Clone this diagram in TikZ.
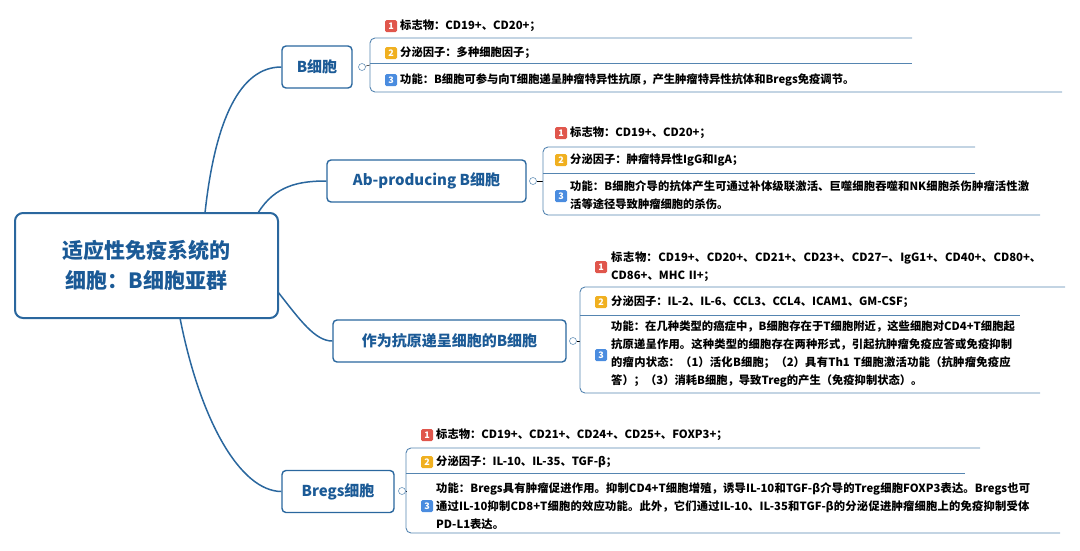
\documentclass[tikz,border=0pt]{standalone}
\usepackage{fontspec}
\setmainfont{Noto Sans CJK SC}
\XeTeXlinebreaklocale "zh"
\XeTeXlinebreakskip=0pt plus 1pt
\definecolor{mapblue}{HTML}{2A679E}
\definecolor{textblue}{HTML}{1B5A96}
\definecolor{bred}{HTML}{E0564C}
\definecolor{byellow}{HTML}{F0B020}
\definecolor{bblue}{HTML}{4A8CDF}
\begin{document}
\begin{tikzpicture}[x=1pt,y=-1pt]
        \tikzset{root/.style = {draw=mapblue,line width=2pt,rounded corners=8pt,text=textblue,font=\fontsize{21}{30}\selectfont\bfseries,align=center,minimum width=263pt,minimum height=105pt}}
        \tikzset{branch/.style = {draw=mapblue,line width=1.4pt,rounded corners=4pt,text=textblue,font=\fontsize{15}{18}\selectfont\bfseries,minimum height=42pt,inner xsep=8pt}}
        \tikzset{knob/.style = {circle,draw=mapblue!70,line width=0.6pt,minimum size=7pt,inner sep=0pt}}
        \tikzset{link/.style = {draw=mapblue,line width=1.5pt}}
        \tikzset{rowline/.style = {draw=mapblue!80,line width=0.9pt,rounded corners=5pt}}
        \tikzset{badge/.style = {fill=#1,text=white,font=\fontsize{9}{9}\selectfont\bfseries,minimum size=12pt,inner sep=0pt,rounded corners=1.5pt}}
        \tikzset{item/.style = {anchor=west,inner sep=0pt,font=\fontsize{11.3}{18}\selectfont\bfseries,align=left,text=black}}
        \useasboundingbox (0,0) rectangle (1080,550);
        % root and branches
        \node[root] (root) at (146.5,265.5) {适应性免疫系统的\\细胞：B细胞亚群};
        \node[branch,minimum width=70pt] (bcell) at (317,67) {B细胞};
        \node[branch,minimum width=199pt] (abp) at (426.5,181) {Ab-producing B细胞};
        \node[branch,minimum width=233pt] (apc) at (449.5,341) {作为抗原递呈细胞的B细胞};
        \node[branch,minimum width=112pt] (bregs) at (338,491.5) {Bregs细胞};
        \draw[link] (205,213) .. controls (215,120) and (240,67) .. (bcell.west);
        \draw[link] (258,213) .. controls (275,185) and (300,181) .. (abp.west);
        \draw[link] (278,292) .. controls (300,320) and (315,341) .. (apc.west);
        \draw[link] (180,318) .. controls (200,420) and (240,491) .. (bregs.west);
        % knobs
        \node[knob] (k1) at (362,67) {};
        \node[knob] (k2) at (533,181) {};
        \node[knob] (k3) at (573,341) {};
        \node[knob] (k4) at (402,491) {};
        % B细胞 items
        \coordinate (b0) at (370,65);
        \draw (k1) -- (b0);
        \draw[rowline] (912,38) -- (370,38) -- (370,92) -- (1062,92);
        \draw[rowline] (370,63) -- (912,63);
        \node[badge=bred] (b1) at (391,26) {1};
        \node[item] (t1) at (400,26) {标志物：CD19+、CD20+；};
        \node[badge=byellow] (b2) at (391,53) {2};
        \node[item] (t2) at (400,53) {分泌因子：多种细胞因子；};
        \node[badge=bblue] (b3) at (391,80) {3};
        \node[item] (t3) at (400,80) {功能：B细胞可参与向T细胞递呈肿瘤特异性抗原，产生肿瘤特异性抗体和Bregs免疫调节。};
        % Ab-producing items
        \coordinate (a0) at (543,181);
        \draw (k2) -- (a0);
        \draw[rowline] (975,147) -- (543,147) -- (543,215) -- (1040,215);
        \draw[rowline] (543,173) -- (975,173);
        \node[badge=bred] (a1) at (561,133) {1};
        \node[item] (u1) at (570,133) {标志物：CD19+、CD20+；};
        \node[badge=byellow] (a2) at (561,160) {2};
        \node[item] (u2) at (570,160) {分泌因子：肿瘤特异性IgG和IgA；};
        \node[badge=bblue] (a3) at (561,196) {3};
        \node[item,text width=462pt] (u3) at (570,195) {功能：B细胞介导的抗体产生可通过补体级联激活、巨噬细胞吞噬和NK细胞杀伤肿瘤活性激活等途径导致肿瘤细胞的杀伤。};
        % APC items
        \coordinate (c0) at (580,341);
        \draw (k3) -- (c0);
        \draw[rowline] (1065,287) -- (580,287) -- (580,393) -- (1040,393);
        \draw[rowline] (580,315) -- (1020,315);
        \node[badge=bred] (c1) at (601,267) {1};
        \node[item,text width=445pt] (v1) at (611,267) {标志物：CD19+、CD20+、CD21+、CD23+、CD27−、IgG1+、CD40+、CD80+、CD86+、MHC II+；};
        \node[badge=byellow] (c2) at (601,302) {2};
        \node[item] (v2) at (611,302) {分泌因子：IL-2、IL-6、CCL3、CCL4、ICAM1、GM-CSF；};
        \node[badge=bblue] (c3) at (601,355) {3};
        \node[item,text width=405pt] (v3) at (611,354) {功能：在几种类型的癌症中，B细胞存在于T细胞附近，这些细胞对CD4+T细胞起抗原递呈作用。这种类型的细胞存在两种形式，引起抗肿瘤免疫应答或免疫抑制的瘤内状态：（1）活化B细胞；（2）具有Th1 T细胞激活功能（抗肿瘤免疫应答）；（3）消耗B细胞，导致Treg的产生（免疫抑制状态）。};
        % Bregs items
        \coordinate (r0) at (406,491);
        \draw (k4) -- (r0);
        \draw[rowline] (980,448) -- (406,448) -- (406,533) -- (1060,533);
        \draw[rowline] (406,473) -- (965,473);
        \node[badge=bred] (r1) at (427,435) {1};
        \node[item] (w1) at (436,435) {标志物：CD19+、CD21+、CD24+、CD25+、FOXP3+；};
        \node[badge=byellow] (r2) at (427,462) {2};
        \node[item] (w2) at (436,462) {分泌因子：IL-10、IL-35、TGF-β；};
        \node[badge=bblue] (r3) at (427,506) {3};
        \node[item,text width=598pt] (w3) at (436,506) {功能：Bregs具有肿瘤促进作用。抑制CD4+T细胞增殖，诱导IL-10和TGF-β介导的Treg细胞FOXP3表达。Bregs也可通过IL-10抑制CD8+T细胞的效应功能。此外，它们通过IL-10、IL-35和TGF-β的分泌促进肿瘤细胞上的免疫抑制受体PD-L1表达。};
        \end{tikzpicture}
\end{document}
